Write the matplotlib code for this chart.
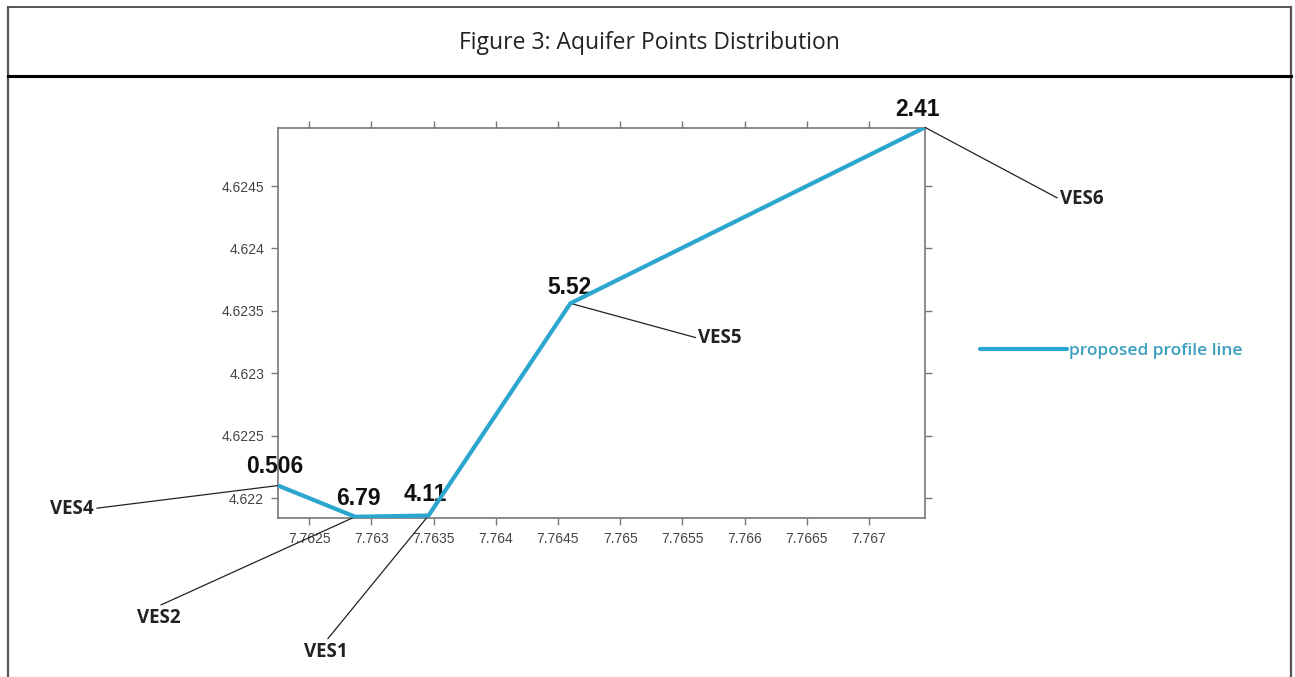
import matplotlib
matplotlib.use("Agg")
import matplotlib.pyplot as plt
from matplotlib.lines import Line2D

# data
nomes = ["VES4", "VES2", "VES1", "VES5", "VES6"]
valores = ["0.506", "6.79", "4.11", "5.52", "2.41"]
longitude = [7.76225, 7.76287, 7.76346, 7.76460, 7.76745]
latitude = [4.62210, 4.62185, 4.62186, 4.62356, 4.62497]

xticks = [7.7625, 7.763, 7.7635, 7.764, 7.7645, 7.765, 7.7655, 7.766, 7.7665, 7.767]
xtick_labels = ["7.7625", "7.763", "7.7635", "7.764", "7.7645", "7.765", "7.7655", "7.766", "7.7665", "7.767"]
yticks = [4.622, 4.6225, 4.623, 4.6235, 4.624, 4.6245]
ytick_labels = ["4.622", "4.6225", "4.623", "4.6235", "4.624", "4.6245"]

# posicoes dos textos (pixels, relativos ao ponto)
off_valor = [(-3, 19), (3, 18), (-3, 21), (-1, 16), (-7, 18)]
off_nome = [(-184, -23), (-196, -101), (-103, -136), (128, -35), (135, -72)]
ha_nome = ["right", "center", "center", "left", "left"]
relpos_nome = [(1, 0.5), (0.4, 1), (0.5, 1), (0, 0.5), (0, 0.5)]

cor_linha = "#2ba6cf"
cinza = "#777777"

fig = plt.figure(figsize=(12.95, 6.77), dpi=100)
fig.patch.set_facecolor("white")

# moldura da figura
W, H = 1295, 677
fig.add_artist(Line2D([8 / W, 8 / W], [0, 1 - 7 / H], color="#555555", lw=1.6))
fig.add_artist(Line2D([1291 / W, 1291 / W], [0, 1 - 7 / H], color="#555555", lw=1.6))
fig.add_artist(Line2D([8 / W, 1291 / W], [1 - 7 / H, 1 - 7 / H], color="#555555", lw=1.4))
fig.add_artist(Line2D([8 / W, 1291 / W], [1 - 76 / H, 1 - 76 / H], color="black", lw=2.2))
fig.text(649 / W, 1 - 43 / H, "Figure 3: Aquifer Points Distribution",
         ha="center", va="center", fontsize=16.5, family="Open Sans", color="#222222")

ax = fig.add_axes([278 / W, 1 - 518 / H, (925 - 278) / W, (518 - 128) / H])
ax.plot(longitude, latitude, color=cor_linha, lw=3, zorder=4,
        solid_capstyle="round", label="proposed profile line")
ax.set_xlim(7.76225, 7.76745)
ax.set_ylim(4.62184, 4.624965)

ax.set_xticks(xticks)
ax.set_xticklabels(xtick_labels)
ax.set_yticks(yticks)
ax.set_yticklabels(ytick_labels)
ax.tick_params(direction="out", length=5, width=1, color=cinza,
               top=True, right=True, labelsize=10, labelcolor="#444444",
               pad=5)
for lbl in ax.get_xticklabels() + ax.get_yticklabels():
    lbl.set_family("Liberation Sans")
for s in ax.spines.values():
    s.set_color(cinza)
    s.set_linewidth(1.2)

for i in range(len(nomes)):
    ax.annotate(valores[i], (longitude[i], latitude[i]), xytext=off_valor[i],
                textcoords="offset pixels", ha="center", va="center",
                fontsize=16.5, fontweight="bold", family="Liberation Sans",
                color="#111111", annotation_clip=False, zorder=3)
    ax.annotate(nomes[i], (longitude[i], latitude[i]), xytext=off_nome[i],
                textcoords="offset pixels", ha=ha_nome[i], va="center",
                fontsize=13.5, fontweight="bold", family="Open Sans",
                color="#222222", annotation_clip=False,
                arrowprops=dict(arrowstyle="-", color="#222222", lw=0.9,
                                relpos=relpos_nome[i], shrinkA=0, shrinkB=0))

leg = ax.legend(loc="center left", bbox_to_anchor=(980 / W, 1 - 351 / H),
                bbox_transform=fig.transFigure, frameon=False,
                handlelength=5.0, handletextpad=0.1, borderpad=0,
                borderaxespad=0, labelcolor="#3a9ec0",
                prop={"family": "Open Sans", "weight": "semibold", "size": 12.5})

fig.savefig("out.png", dpi=100)
